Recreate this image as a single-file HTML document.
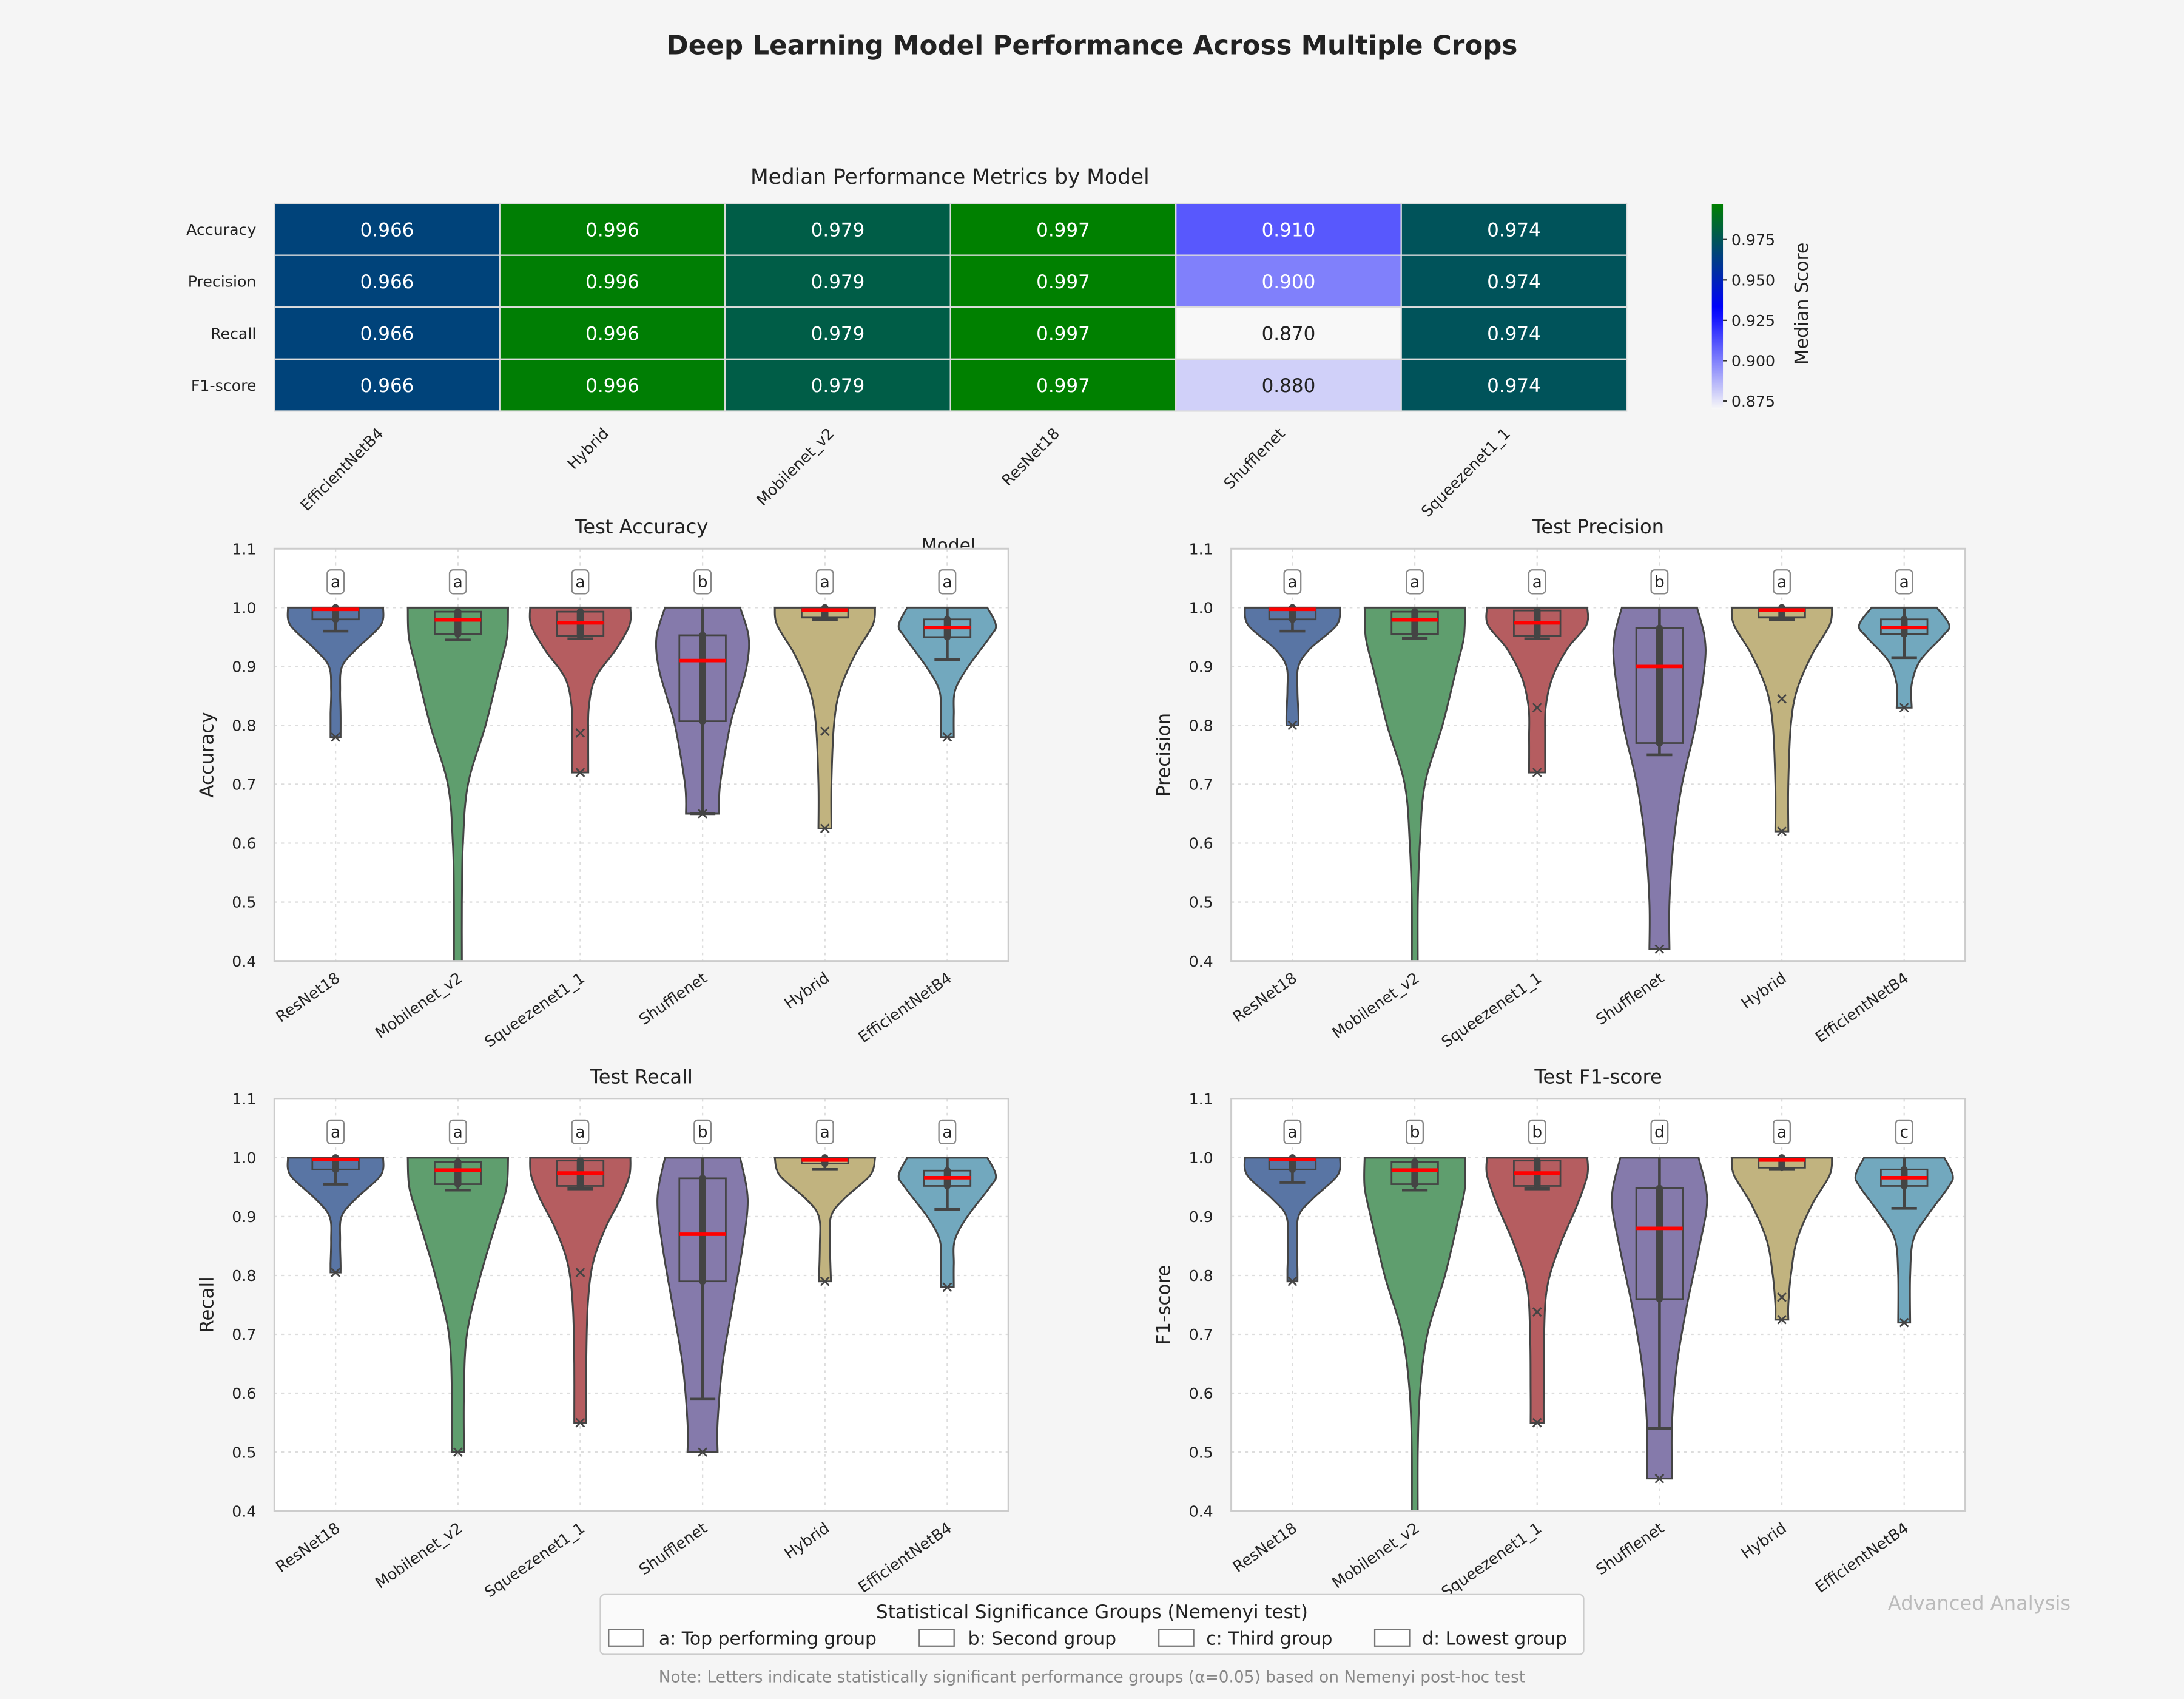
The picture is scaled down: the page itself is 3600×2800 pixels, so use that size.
<!DOCTYPE html>
<html><head><meta charset="utf-8"><style>
html,body{margin:0;padding:0;background:#f5f5f5;}
svg{display:block;font-family:"DejaVu Sans","Liberation Sans",sans-serif;}
</style></head><body>
<svg id="chart" width="3600" height="2800" viewBox="0 0 1568 1220" preserveAspectRatio="none" xmlns="http://www.w3.org/2000/svg">
<rect x="0" y="0" width="1568" height="1220" fill="#f5f5f5"/>
<text x="784" y="39" text-anchor="middle" font-size="19" font-weight="bold" fill="#222">Deep Learning Model Performance Across Multiple Crops</text>
<g id="heat"></g>
<g id="panels"></g>
<g id="legend">
<rect x="431" y="1145" width="706" height="43" rx="3" fill="#fafafa" stroke="#ccc"/>
<text x="784" y="1162" text-anchor="middle" font-size="13.5" fill="#222">Statistical Significance Groups (Nemenyi test)</text>
<g><rect x="437" y="1170" width="25" height="12" fill="#fff" stroke="#777"/><text x="473" y="1181" font-size="13" fill="#222">a: Top performing group</text></g>
<g><rect x="660" y="1170" width="25" height="12" fill="#fff" stroke="#777"/><text x="695" y="1181" font-size="13" fill="#222">b: Second group</text></g>
<g><rect x="832" y="1170" width="25" height="12" fill="#fff" stroke="#777"/><text x="866" y="1181" font-size="13" fill="#222">c: Third group</text></g>
<g><rect x="987" y="1170" width="25" height="12" fill="#fff" stroke="#777"/><text x="1021" y="1181" font-size="13" fill="#222">d: Lowest group</text></g>
</g>
<text x="784" y="1208" text-anchor="middle" font-size="11.5" fill="#888">Note: Letters indicate statistically significant performance groups (α=0.05) based on Nemenyi post-hoc test</text>
<text x="1421" y="1156" text-anchor="middle" font-size="14" fill="#bbb">Advanced Analysis</text>
</svg>
<script>
const NS='http://www.w3.org/2000/svg';
// ---- heatmap data ----
const heatModels=['EfficientNetB4','Hybrid','Mobilenet_v2','ResNet18','Shufflenet','Squeezenet1_1'];
const heatMetrics=['Accuracy','Precision','Recall','F1-score'];
const heatAcc=[0.966,0.996,0.979,0.997,0.910,0.974];
const heatPrec=[0.966,0.996,0.979,0.997,0.900,0.974];
const heatRec=[0.966,0.996,0.979,0.997,0.870,0.974];
const heatF1=[0.966,0.996,0.979,0.997,0.880,0.974];
const cbTicks=[0.875,0.900,0.925,0.950,0.975];
// ---- violin data ----
const models=['ResNet18','Mobilenet_v2','Squeezenet1_1','Shufflenet','Hybrid','EfficientNetB4'];
const panelTitles=['Test Accuracy','Test Precision','Test Recall','Test F1-score'];
const panelYLabels=['Accuracy','Precision','Recall','F1-score'];
const yTicks=[0.4,0.5,0.6,0.7,0.8,0.9,1.0,1.1];
const groupsAcc=['a','a','a','b','a','a'];
const groupsPrec=['a','a','a','b','a','a'];
const groupsRec=['a','a','a','b','a','a'];
const groupsF1=['a','b','b','d','a','c'];
// box stats per model: q1, median, q3, whiskerLow, whiskerHigh, min, mean(or null)
const statsAcc=[[0.98,0.997,1.0,0.96,1.0,0.78,null],[0.955,0.979,0.993,0.945,1.0,0.38,null],[0.952,0.974,0.993,0.947,1.0,0.72,0.787],[0.807,0.91,0.953,0.65,1.0,0.65,null],[0.983,0.996,1.0,0.98,1.0,0.625,0.79],[0.95,0.966,0.98,0.912,1.0,0.78,null]];
const statsPrec=[[0.98,0.997,1.0,0.96,1.0,0.80,null],[0.955,0.979,0.993,0.948,1.0,0.38,null],[0.952,0.974,0.995,0.947,1.0,0.72,0.83],[0.77,0.90,0.965,0.75,1.0,0.42,null],[0.983,0.996,1.0,0.98,1.0,0.62,0.845],[0.955,0.966,0.98,0.915,1.0,0.83,null]];
const statsRec=[[0.98,0.997,1.0,0.955,1.0,0.805,null],[0.955,0.979,0.993,0.945,1.0,0.50,null],[0.952,0.974,0.995,0.947,1.0,0.55,0.805],[0.79,0.87,0.965,0.59,1.0,0.50,null],[0.99,0.996,1.0,0.98,1.0,0.79,null],[0.952,0.966,0.978,0.912,1.0,0.78,null]];
const statsF1=[[0.98,0.997,1.0,0.958,1.0,0.79,null],[0.955,0.979,0.993,0.945,1.0,0.38,null],[0.952,0.974,0.995,0.947,1.0,0.55,0.738],[0.76,0.88,0.948,0.54,1.0,0.455,null],[0.983,0.996,1.0,0.98,1.0,0.725,0.763],[0.952,0.966,0.98,0.914,1.0,0.72,null]];
// violin profile knots (value, relative half-width), top to bottom
const shapeAcc=[
 [[1.0,0.95],[0.97,0.9],[0.93,0.42],[0.9,0.13],[0.86,0.09],[0.82,0.1],[0.78,0.1]],
 [[1.0,1.0],[0.95,0.98],[0.9,0.84],[0.8,0.55],[0.7,0.2],[0.6,0.1],[0.5,0.08],[0.38,0.08]],
 [[1.0,1.0],[0.97,0.98],[0.93,0.72],[0.88,0.3],[0.83,0.17],[0.78,0.16],[0.72,0.16]],
 [[1.0,0.75],[0.95,0.92],[0.9,0.88],[0.85,0.72],[0.8,0.55],[0.7,0.35],[0.65,0.33]],
 [[1.0,1.0],[0.97,0.95],[0.92,0.6],[0.86,0.3],[0.8,0.18],[0.7,0.13],[0.625,0.13]],
 [[1.0,0.8],[0.97,0.97],[0.95,0.85],[0.9,0.42],[0.86,0.16],[0.82,0.13],[0.78,0.13]]];
const shapePrec=[
 [[1.0,0.95],[0.97,0.88],[0.93,0.35],[0.9,0.12],[0.86,0.1],[0.82,0.12],[0.80,0.12]],
 [[1.0,1.0],[0.95,0.98],[0.9,0.84],[0.8,0.55],[0.7,0.2],[0.6,0.1],[0.5,0.06],[0.38,0.06]],
 [[1.0,1.0],[0.97,0.98],[0.93,0.6],[0.88,0.3],[0.83,0.17],[0.78,0.16],[0.72,0.16]],
 [[1.0,0.75],[0.95,0.9],[0.9,0.9],[0.8,0.72],[0.7,0.45],[0.6,0.28],[0.5,0.2],[0.42,0.2]],
 [[1.0,1.0],[0.97,0.95],[0.92,0.6],[0.86,0.3],[0.8,0.18],[0.7,0.13],[0.62,0.13]],
 [[1.0,0.65],[0.97,0.9],[0.95,0.75],[0.91,0.32],[0.87,0.15],[0.83,0.15]]];
const shapeRec=[
 [[1.0,0.95],[0.97,0.9],[0.93,0.4],[0.9,0.12],[0.86,0.09],[0.82,0.1],[0.805,0.1]],
 [[1.0,1.0],[0.95,0.97],[0.9,0.8],[0.8,0.45],[0.7,0.18],[0.6,0.12],[0.5,0.12]],
 [[1.0,1.0],[0.97,0.98],[0.93,0.8],[0.88,0.5],[0.82,0.25],[0.75,0.15],[0.65,0.12],[0.55,0.12]],
 [[1.0,0.75],[0.93,0.9],[0.85,0.8],[0.75,0.6],[0.65,0.4],[0.55,0.3],[0.5,0.3]],
 [[1.0,1.0],[0.97,0.9],[0.93,0.38],[0.9,0.12],[0.85,0.1],[0.79,0.12]],
 [[1.0,0.8],[0.97,0.97],[0.95,0.85],[0.9,0.4],[0.86,0.15],[0.82,0.13],[0.78,0.13]]];
const shapeF1=[
 [[1.0,0.95],[0.97,0.9],[0.93,0.4],[0.9,0.12],[0.85,0.09],[0.81,0.1],[0.79,0.1]],
 [[1.0,1.0],[0.95,1.0],[0.9,0.88],[0.8,0.6],[0.7,0.25],[0.6,0.1],[0.5,0.06],[0.38,0.06]],
 [[1.0,1.0],[0.97,1.0],[0.92,0.8],[0.85,0.45],[0.78,0.2],[0.7,0.14],[0.6,0.13],[0.55,0.13]],
 [[1.0,0.78],[0.93,0.95],[0.85,0.8],[0.75,0.55],[0.65,0.35],[0.55,0.25],[0.455,0.25]],
 [[1.0,1.0],[0.97,0.95],[0.92,0.6],[0.86,0.3],[0.8,0.18],[0.75,0.13],[0.725,0.13]],
 [[1.0,0.8],[0.97,0.97],[0.95,0.88],[0.9,0.45],[0.86,0.18],[0.8,0.12],[0.72,0.12]]];
const violinColors=['#5975a4','#5f9e6e','#b55d60','#857aab','#c1b37f','#72a8be'];

function el(tag,attrs,parent,text){const e=document.createElementNS(NS,tag);for(const k in attrs)e.setAttribute(k,attrs[k]);if(text!==undefined)e.textContent=text;parent.appendChild(e);return e;}

// ---- heatmap ----
const heat=document.getElementById('heat');
const hx0=197,hy0=146,cw=161.8,ch=37.3;
const heatRows=[heatAcc,heatPrec,heatRec,heatF1];
function cmap(v){
  const lo=0.870,mid=0.932,hi=0.997;
  if(v<=mid){const t=Math.max(0,(v-lo)/(mid-lo));const c=Math.round(248*(1-t));return `rgb(${c},${c},${Math.round(248+(255-248)*t)})`;}
  const t=Math.min(1,(v-mid)/(hi-mid));return `rgb(0,${Math.round(128*t)},${Math.round(255*(1-t))})`;
}
el('text',{x:682,y:132,'text-anchor':'middle','font-size':15,fill:'#222'},heat,'Median Performance Metrics by Model');
heatRows.forEach((row,r)=>{
  const lab=el('text',{x:184,y:hy0+ch*r+ch/2+4,'text-anchor':'end','font-size':11,fill:'#222'},heat,heatMetrics[r]);
  
  
  row.forEach((v,c)=>{
    const rc=el('rect',{x:hx0+cw*c,y:hy0+ch*r,width:cw,height:ch,fill:cmap(v),stroke:'#ddd','stroke-width':1},heat);
    
    
    const t=el('text',{x:hx0+cw*c+cw/2,y:hy0+ch*r+ch/2+5,'text-anchor':'middle','font-size':13.5,fill:v<0.895?'#222':'#fff'},heat,v.toFixed(3));
    
    
  });
});
heatModels.forEach((m,c)=>{
  const cx=hx0+cw*c+cw/2;
  const t=el('text',{x:cx-2,y:312,'text-anchor':'end','font-size':11,fill:'#222',transform:`rotate(-45 ${cx-2} 312)`},heat,m);
  
  
});
const mlab=el('text',{x:681,y:396,'text-anchor':'middle','font-size':13,fill:'#222'},heat,'Model');


// colorbar
const defs=el('defs',{},heat);
const lg=el('linearGradient',{id:'cbg',x1:0,y1:1,x2:0,y2:0},defs);
const cbLo=0.870,cbHi=0.997,cbY=v=>288-(v-0.875)*1160;
for(let i=0;i<=20;i++){const v=cbLo+(cbHi-cbLo)*i/20;el('stop',{offset:i/20,'stop-color':cmap(v)},lg);}
const cb=el('rect',{x:1229,y:cbY(cbHi),width:8,height:cbY(cbLo)-cbY(cbHi),fill:'url(#cbg)'},heat);


cbTicks.forEach(v=>{
  el('line',{x1:1237,x2:1240,y1:cbY(v),y2:cbY(v),stroke:'#333'},heat);
  const t=el('text',{x:1243,y:cbY(v)+4,'font-size':11,fill:'#222'},heat,v.toFixed(3));
  
  
});
const cbt=el('text',{x:1298,y:218,'text-anchor':'middle','font-size':13,fill:'#222',transform:'rotate(-90 1298 218)'},heat,'Median Score');



// ---- violins ----
const panels=document.getElementById('panels');
const panelPos=[[197,394],[884,394],[197,789],[884,789]];
const allStats=[statsAcc,statsPrec,statsRec,statsF1];
const allShapes=[shapeAcc,shapePrec,shapeRec,shapeF1];
const allGroups=[groupsAcc,groupsPrec,groupsRec,groupsF1];
const PW=527,PH=296;
function smoothSide(pts){
  let d='';
  for(let i=0;i<pts.length-1;i++){
    const p0=pts[Math.max(0,i-1)],p1=pts[i],p2=pts[i+1],p3=pts[Math.min(pts.length-1,i+2)];
    const c1=[p1[0]+(p2[0]-p0[0])/6,p1[1]+(p2[1]-p0[1])/6],c2=[p2[0]-(p3[0]-p1[0])/6,p2[1]-(p3[1]-p1[1])/6];
    d+=` C${c1[0].toFixed(1)},${c1[1].toFixed(1)} ${c2[0].toFixed(1)},${c2[1].toFixed(1)} ${p2[0].toFixed(1)},${p2[1].toFixed(1)}`;
  }
  return d;
}
panelPos.forEach(([px,py],pi)=>{
  const g=el('g',{},panels);
  
  
  const y=v=>py+PH*(1.1-v)/0.7;
  const bw=PW/6;const xc=i=>px+bw*(i+0.5);
  const cid='clip'+pi;
  el('rect',{x:px,y:py,width:PW,height:PH,fill:'#fff'},g);
  const cp=el('clipPath',{id:cid},g);el('rect',{x:px,y:py,width:PW,height:PH},cp);
  yTicks.forEach(v=>{
    el('line',{x1:px,x2:px+PW,y1:y(v),y2:y(v),stroke:'#ddd','stroke-dasharray':'2,3'},g);
    const t=el('text',{x:px-13,y:y(v)+4,'text-anchor':'end','font-size':11,fill:'#222'},g,v.toFixed(1));
    
    
  });
  models.forEach((m,i)=>{
    el('line',{x1:xc(i),x2:xc(i),y1:py,y2:py+PH,stroke:'#ddd','stroke-dasharray':'2,3'},g);
    const tx=xc(i)+4,ty=py+PH+14;
    const t=el('text',{x:tx,y:ty,'text-anchor':'end','font-size':11,fill:'#222',transform:`rotate(-35 ${tx} ${ty})`},g,m);
    
    
  });
  const vg=el('g',{'clip-path':`url(#${cid})`},g);
  const hw=bw*0.41;
  models.forEach((m,i)=>{
    const sh=allShapes[pi][i],st=allStats[pi][i],cx=xc(i);
    const L=sh.map(k=>[cx-k[1]*hw,y(k[0])]);
    const R=sh.map(k=>[cx+k[1]*hw,y(k[0])]).reverse();
    let d=`M${L[0][0]},${L[0][1]}`+smoothSide(L)+` L${R[0][0]},${R[0][1]}`+smoothSide(R)+' Z';
    const p=el('path',{d:d,fill:violinColors[i],stroke:'#444','stroke-width':1.3},vg);
    
    
    const [q1,med,q3,wlo,whi,mn,mean]=st;
    const bx=bw*0.19;
    el('line',{x1:cx,x2:cx,y1:y(whi),y2:y(wlo),stroke:'#444','stroke-width':2},vg);
    el('line',{x1:cx-bx*0.55,x2:cx+bx*0.55,y1:y(wlo),y2:y(wlo),stroke:'#444','stroke-width':2},vg);
    const b=el('rect',{x:cx-bx,y:y(q3),width:2*bx,height:y(q1)-y(q3),fill:'none',stroke:'#444','stroke-width':1.2},vg);
    
    
    el('line',{x1:cx,x2:cx,y1:y(q3),y2:y(q1),stroke:'#444','stroke-width':5,'stroke-linecap':'round'},vg);
    const ml=el('line',{x1:cx-bx,x2:cx+bx,y1:y(med),y2:y(med),stroke:'#f00','stroke-width':2.5},vg);
    
    
    [mn,mean].forEach(v=>{if(v===null||v<0.4)return;const yy=y(v);
      el('path',{d:`M${cx-3},${yy-3}L${cx+3},${yy+3}M${cx-3},${yy+3}L${cx+3},${yy-3}`,stroke:'#444','stroke-width':1.2},vg);});
    const gl=el('g',{},g);
    
    
    el('rect',{x:cx-6,y:y(1.045)-8,width:12,height:17,rx:2.5,fill:'#fff',stroke:'#888','stroke-width':1},gl);
    el('text',{x:cx,y:y(1.045)+4.5,'text-anchor':'middle','font-size':11.5,fill:'#222'},gl,allGroups[pi][i]);
  });
  el('rect',{x:px,y:py,width:PW,height:PH,fill:'none',stroke:'#ccc','stroke-width':1.3},g);
  const tt=el('text',{x:px+PW/2,y:py-11,'text-anchor':'middle','font-size':14,fill:'#222'},g,panelTitles[pi]);
  
  
  const yl=el('text',{x:px-44,y:py+PH/2,'text-anchor':'middle','font-size':13.5,fill:'#222',transform:`rotate(-90 ${px-44} ${py+PH/2})`},g,panelYLabels[pi]);
  
  
});
const svg=document.getElementById('chart');svg.appendChild(document.getElementById('legend'));
</script>
</body></html>
